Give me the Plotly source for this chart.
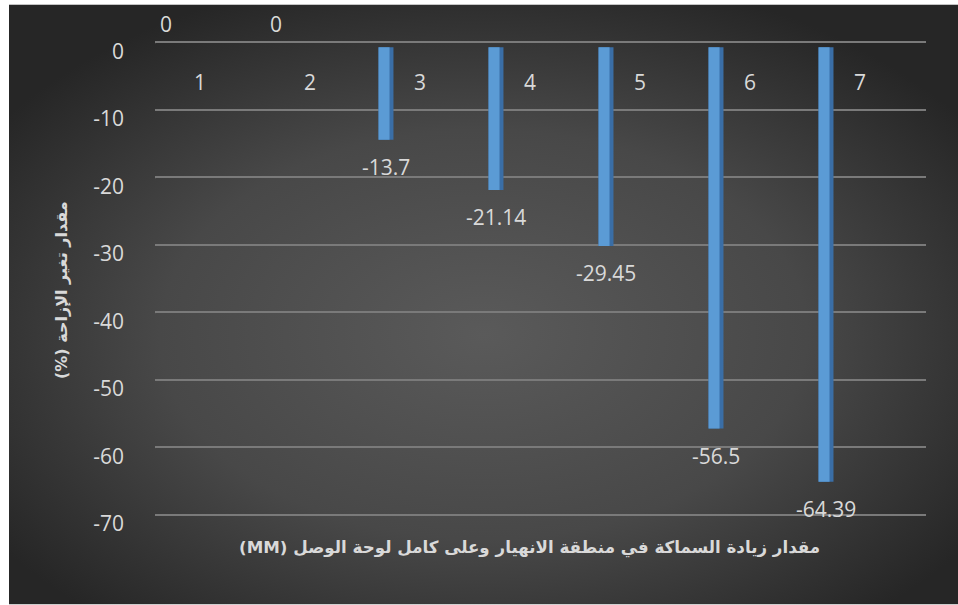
import plotly.graph_objects as go

categories = [1, 2, 3, 4, 5, 6, 7]
values = [0, 0, -13.7, -21.14, -29.45, -56.5, -64.39]
y_tickvals = [0, -10, -20, -30, -40, -50, -60, -70]
y_ticktext = ["0", "-10", "-20", "-30", "-40", "-50", "-60", "-70"]
x_title = "مقدار زيادة السماكة في منطقة الانهيار وعلى كامل لوحة الوصل (MM)"
y_title = "مقدار تغير الإزاحة (%)"

RLE, PDF = "\u202b", "\u202c"
num_font = dict(family="Open Sans, Calibri, sans-serif", size=21, color="#d9d9d9")
xtitle_font = dict(family="DejaVu Sans, Arial, sans-serif", size=16.7, color="#d9d9d9")
ytitle_font = dict(family="DejaVu Sans, Arial, sans-serif", size=16, color="#d9d9d9")

fig = go.Figure()

# darker body (its right part shows as the side face)
fig.add_trace(go.Bar(
    x=categories, y=values, xaxis="x", yaxis="y2",
    width=0.136, offset=-0.068,
    marker=dict(color="#3a6ea6", line=dict(width=0)),
    hoverinfo="skip", showlegend=False,
))
# lighter front face of the bars
fig.add_trace(go.Bar(
    x=categories, y=values, xaxis="x", yaxis="y2",
    width=0.1, offset=-0.068,
    marker=dict(color="#5b9bd5", line=dict(width=0)),
    hoverinfo="x+y", showlegend=False,
))

annotations = []
# data labels
for c, v in zip(categories, values):
    annotations.append(dict(
        x=c, y=v, xref="x", yref="y2", text=str(v), showarrow=False,
        font=num_font, xanchor="center", yanchor="middle",
        yshift=(-27 if v < 0 else 23),
    ))
# category labels (drawn next to the zero line)
for c in categories:
    annotations.append(dict(
        x=c, y=0, xref="x", yref="y", text=str(c), showarrow=False,
        font=num_font, xanchor="center", yanchor="middle",
        xshift=34, yshift=-40,
    ))
# axis titles
annotations.append(dict(
    x=0.486, y=-0.062, xref="paper", yref="paper",
    text="<b>" + RLE + x_title + PDF + "</b>", showarrow=False,
    font=xtitle_font, xanchor="center", yanchor="middle",
))
annotations.append(dict(
    x=-0.1206, y=0.476, xref="paper", yref="paper",
    text="<b>" + RLE + y_title + PDF + "</b>", showarrow=False, textangle=-90,
    font=ytitle_font, xanchor="center", yanchor="middle",
))

# small slanted floor stubs at the left of every gridline (3D look)
shapes = []
for v in y_tickvals:
    shapes.append(dict(
        type="line", xref="x", yref="y",
        x0=0.791, y0=v - 1.18, x1=0.9, y1=v,
        line=dict(color="#7a7a7a", width=2), layer="below",
    ))

bg_svg = (
    "data:image/svg+xml;utf8,"
    "<svg xmlns='http://www.w3.org/2000/svg' width='949' height='601' "
    "viewBox='0 0 949 601' preserveAspectRatio='none'>"
    "<defs><radialGradient id='g' cx='0.5' cy='0.55' r='0.62'>"
    "<stop offset='0' stop-color='%235a5a5a'/>"
    "<stop offset='0.55' stop-color='%23484848'/>"
    "<stop offset='1' stop-color='%23262626'/>"
    "</radialGradient></defs>"
    "<rect width='949' height='601' fill='url(%23g)'/></svg>"
)

L, R, T, B = 155, 32, 38.6, 86.6
W, H = 958, 605
pw = W - L - R
ph = H - T - B

fig.update_layout(
    width=W, height=H,
    margin=dict(l=L, r=R, t=T, b=B, pad=0),
    paper_bgcolor="white",
    plot_bgcolor="rgba(0,0,0,0)",
    barmode="overlay",
    xaxis=dict(
        range=[0.9, 7.909], showgrid=False, zeroline=False,
        showticklabels=False, ticks="", showline=False, fixedrange=True,
    ),
    yaxis=dict(
        range=[-70.5, 0.5], tickvals=y_tickvals, ticktext=y_ticktext,
        showgrid=True, gridcolor="#7a7a7a", gridwidth=2,
        zeroline=False, showline=False, ticks="",
        tickfont=num_font, ticklabelstandoff=30, ticklabelshift=9,
        fixedrange=True,
    ),
    yaxis2=dict(
        range=[-70.5 + 0.74, 0.5 + 0.74], overlaying="y",
        showgrid=False, zeroline=False, showticklabels=False,
        showline=False, ticks="", fixedrange=True,
    ),
    images=[dict(
        source=bg_svg, xref="paper", yref="paper",
        x=(9 - L) / pw, y=(H - B - 4) / ph,
        sizex=949 / pw, sizey=601 / ph,
        sizing="stretch", xanchor="left", yanchor="top", layer="below",
    )],
    annotations=annotations,
    shapes=shapes,
)

fig.write_html("out.html")
